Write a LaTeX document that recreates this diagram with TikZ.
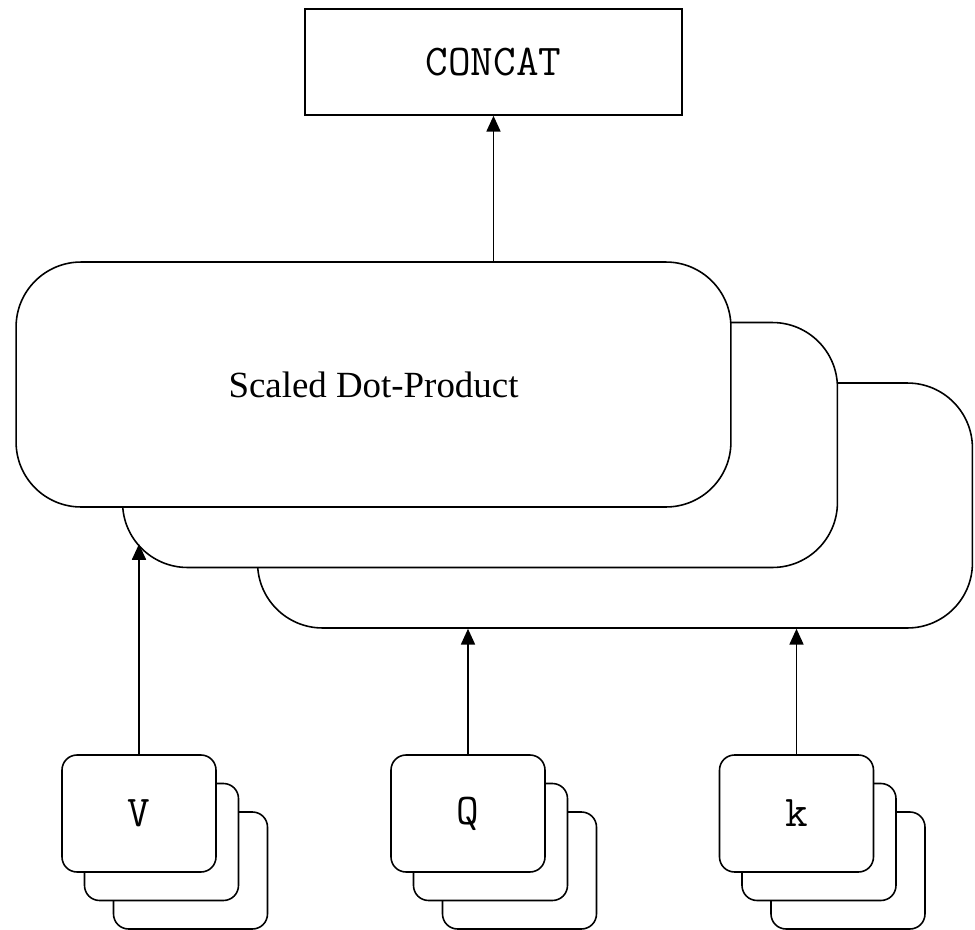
\documentclass[tikz,border=0pt]{standalone}
\usepackage{fontspec}
\usepackage{tikz}
\usetikzlibrary{arrows.meta}
\newfontfamily\seriffont{Liberation Serif}
\tikzstyle{arrow}=[line width=0.9pt, -{Triangle[length=9pt,width=8pt]}, color=black]
\tikzstyle{sdpbox}=[draw, line width=0.9pt, fill=white, rounded corners=1.3cm, inner sep=0pt, minimum width=14.3cm, minimum height=4.9cm]
\tikzstyle{inbox}=[draw, line width=0.9pt, fill=white, rounded corners=0.3cm, inner sep=0pt, minimum width=3.08cm, minimum height=2.34cm]

\begin{document}
\begin{tikzpicture}[x=0.02cm, y=-0.02cm]
    \useasboundingbox (0,0) rectangle (975,930);

    % Output block
    \node[draw, line width=0.9pt, inner sep=0pt, minimum width=7.54cm, minimum height=2.12cm,
          font=\ttfamily\fontsize{25}{29}\selectfont] (concat) at (493.5, 62) {CONCAT};

    % Attention heads, back to front
    \node[sdpbox] (sdp3) at (615, 505.5) {};
    \node[sdpbox] (sdp2) at (480, 445) {};
    \node[sdpbox, font=\seriffont\fontsize{21}{25}\selectfont] (sdp1) at (373.5, 384.5) {Scaled Dot-Product};

    % Input stacks
    \foreach \nm/\x/\lbl in {v/139/V, q/468/Q, k/796.5/k} {
        \node[inbox] (\nm back) at (\x+51.5, 870.5) {};
        \node[inbox] (\nm mid) at (\x+22.5, 842) {};
        \node[inbox, font=\ttfamily\fontsize{25}{29}\selectfont] (\nm front) at (\x, 813.5) {\lbl};
    }

    % Connections
    \coordinate (vin) at (139, 544);
    \draw[arrow] (vfront.north) -- (vin);
    \draw[arrow] (qfront.north) -- (qfront.north |- sdp3.south);
    \draw[arrow] (kfront.north) -- (kfront.north |- sdp3.south);
    \draw[arrow] (concat.south |- sdp1.north) -- (concat.south);

\end{tikzpicture}
\end{document}
